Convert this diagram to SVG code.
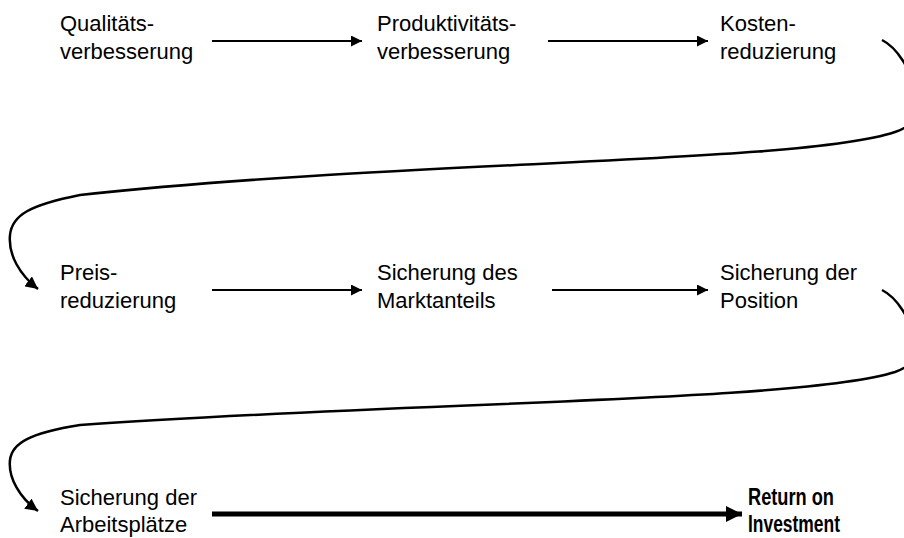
<svg xmlns="http://www.w3.org/2000/svg" width="904" height="538" viewBox="0 0 904 538">
<style>
text{font-family:"Liberation Sans",Arial,Helvetica,sans-serif;font-size:22px;fill:#000}
.b{font-weight:bold;font-size:23px}
.c{fill:none;stroke:#000;stroke-width:2}
.cv{fill:none;stroke:#000;stroke-width:2.5}
.t{fill:none;stroke:#000;stroke-width:5}
</style>
<defs>
<marker id="ah" viewBox="0 0 10 10" refX="10" refY="5" markerWidth="5.5" markerHeight="5.5" markerUnits="strokeWidth" orient="auto"><path d="M0,0L10,5L0,10z" fill="#000"/></marker>
<marker id="ahc" viewBox="0 0 10 10" refX="10" refY="5" markerWidth="5" markerHeight="5" markerUnits="strokeWidth" orient="auto"><path d="M0,0L10,5L0,10z" fill="#000"/></marker>
<marker id="aht" viewBox="0 0 10 10" refX="10" refY="5" markerWidth="3.2" markerHeight="3.2" markerUnits="strokeWidth" orient="auto"><path d="M0,0L10,5L0,10z" fill="#000"/></marker>
</defs>
<g id="n1"><text x="60" y="31">Qualitäts-</text><text x="60" y="59">verbesserung</text></g>
<g id="n2"><text x="377" y="31">Produktivitäts-</text><text x="377" y="59">verbesserung</text></g>
<g id="n3"><text x="720" y="31">Kosten-</text><text x="720" y="59">reduzierung</text></g>
<g id="n4"><text x="60" y="280">Preis-</text><text x="60" y="308">reduzierung</text></g>
<g id="n5"><text x="377" y="280">Sicherung des</text><text x="377" y="308">Marktanteils</text></g>
<g id="n6"><text x="720" y="280">Sicherung der</text><text x="720" y="308">Position</text></g>
<g id="n7"><text x="60" y="505">Sicherung der</text><text x="60" y="532">Arbeitsplätze</text></g>
<g id="n8"><text class="b" x="748" y="505" textLength="86" lengthAdjust="spacingAndGlyphs">Return on</text><text class="b" x="748" y="532" textLength="92" lengthAdjust="spacingAndGlyphs">Investment</text></g>
<g id="connectors">
<line class="c" x1="212" y1="41" x2="362" y2="41" marker-end="url(#ah)"/>
<line class="c" x1="548" y1="41" x2="708" y2="41" marker-end="url(#ah)"/>
<line class="c" x1="212" y1="290" x2="362" y2="290" marker-end="url(#ah)"/>
<line class="c" x1="552" y1="290" x2="708" y2="290" marker-end="url(#ah)"/>
<line class="t" x1="212" y1="514" x2="742" y2="514" marker-end="url(#aht)"/>
<path class="cv" d="M882,40 C898,48 910,70 916,90 C922,112 914,126 895,132 C800,164 400,160 80,195 C30,205 12,215 10,235 C8,255 20,275 38,289" marker-end="url(#ahc)"/>
<path class="cv" d="M882,290 C898,298 910,320 915,338 C920,356 912,366 895,372 C800,402 400,402 80,425 C30,433 12,443 10,460 C8,478 20,498 38,511" marker-end="url(#ahc)"/>
</g>
</svg>
